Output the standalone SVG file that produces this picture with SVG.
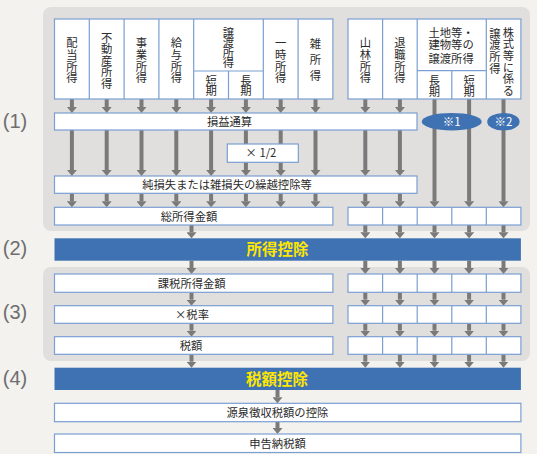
<svg xmlns="http://www.w3.org/2000/svg" width="537" height="454" viewBox="0 0 537 454">
<defs>
<style>
.bg{fill:#f3f2ee}
.panel{fill:#e1dfde}
.box{fill:#fff;stroke:#7b9fd2;stroke-width:1.2}
.div{stroke:#7b9fd2;stroke-width:1.2;fill:none}
.bar{fill:#3e72b3}
.t{font-family:"Noto Sans CJK JP","Noto Sans",sans-serif;font-size:11.3px;fill:#2a2a2a}
.m{text-anchor:middle}
.v{writing-mode:vertical-rl;text-anchor:middle;letter-spacing:0.3px}
.bt{font-family:"Noto Sans CJK JP",sans-serif;font-size:15.5px;font-weight:bold;fill:#ffe600;text-anchor:middle}
.lab{font-family:"Liberation Sans","Noto Sans",sans-serif;font-size:20px;fill:#6e6e6e;text-anchor:middle}
.ell{fill:#3e72b3}
.et{font-family:"Noto Sans CJK JP",sans-serif;font-size:11.5px;fill:#fff;text-anchor:middle}
.ar{stroke:#7a7a7a;stroke-width:4;fill:none;marker-end:url(#ah)}
</style>
<marker id="ah" viewBox="0 0 6 10" refX="0" refY="5" markerWidth="6" markerHeight="10" markerUnits="userSpaceOnUse" orient="auto">
<path d="M0,0 L6,5 L0,10 z" fill="#7a7a7a"/>
</marker>
</defs>
<rect class="bg" x="0" y="0" width="537" height="454"/>
<rect class="panel" x="43" y="7" width="487" height="224" rx="8"/>
<rect class="panel" x="43" y="267" width="487" height="94" rx="8"/>

<g id="labels">
<text class="lab" x="15" y="128">(1)</text>
<text class="lab" x="15" y="255">(2)</text>
<text class="lab" x="15" y="319">(3)</text>
<text class="lab" x="15" y="385">(4)</text>
</g>

<g id="connectors">
<path class="ar" d="M71.9,99V107"/><path class="ar" d="M106.7,99V107"/><path class="ar" d="M141.5,99V107"/><path class="ar" d="M176.3,99V107"/>
<path class="ar" d="M211.1,99V107"/><path class="ar" d="M245.9,99V107"/><path class="ar" d="M280.7,99V107"/><path class="ar" d="M315.5,99V107"/>
<path class="ar" d="M365.3,99V107"/><path class="ar" d="M399.9,99V107"/>
<path class="ar" d="M434.5,99V201.3"/><path class="ar" d="M469.1,99V201.3"/><path class="ar" d="M503.5,99V201.3"/>
<path class="ar" d="M71.9,130V170"/><path class="ar" d="M106.7,130V170"/><path class="ar" d="M141.5,130V170"/><path class="ar" d="M176.3,130V170"/>
<path class="ar" d="M211.1,130V170"/><path class="ar" d="M245.9,130V170"/><path class="ar" d="M280.7,130V170"/><path class="ar" d="M315.5,130V170"/>
<path class="ar" d="M365.3,130V170"/><path class="ar" d="M399.9,130V170"/>
<path class="ar" d="M71.9,193.3V201.3"/><path class="ar" d="M106.7,193.3V201.3"/><path class="ar" d="M141.5,193.3V201.3"/><path class="ar" d="M176.3,193.3V201.3"/>
<path class="ar" d="M211.1,193.3V201.3"/><path class="ar" d="M245.9,193.3V201.3"/><path class="ar" d="M280.7,193.3V201.3"/><path class="ar" d="M315.5,193.3V201.3"/>
<path class="ar" d="M365.3,193.3V201.3"/><path class="ar" d="M399.9,193.3V201.3"/>
<path class="ar" d="M191.5,225V232.3"/><path class="ar" d="M365.3,225V232.3"/><path class="ar" d="M399.9,225V232.3"/><path class="ar" d="M434.5,225V232.3"/><path class="ar" d="M469.1,225V232.3"/><path class="ar" d="M503.5,225V232.3"/>
<path class="ar" d="M191.5,260.7V268"/><path class="ar" d="M365.3,260.7V268"/><path class="ar" d="M399.9,260.7V268"/><path class="ar" d="M434.5,260.7V268"/><path class="ar" d="M469.1,260.7V268"/><path class="ar" d="M503.5,260.7V268"/>
<path class="ar" d="M191.5,292.3V299.7"/><path class="ar" d="M365.3,292.3V299.7"/><path class="ar" d="M399.9,292.3V299.7"/><path class="ar" d="M434.5,292.3V299.7"/><path class="ar" d="M469.1,292.3V299.7"/><path class="ar" d="M503.5,292.3V299.7"/>
<path class="ar" d="M191.5,323.3V330.7"/><path class="ar" d="M365.3,323.3V330.7"/><path class="ar" d="M399.9,323.3V330.7"/><path class="ar" d="M434.5,323.3V330.7"/><path class="ar" d="M469.1,323.3V330.7"/><path class="ar" d="M503.5,323.3V330.7"/>
<path class="ar" d="M191.5,354.3V361.7"/><path class="ar" d="M365.3,354.3V361.7"/><path class="ar" d="M399.9,354.3V361.7"/><path class="ar" d="M434.5,354.3V361.7"/><path class="ar" d="M469.1,354.3V361.7"/><path class="ar" d="M503.5,354.3V361.7"/>
<path class="ar" d="M277.5,390V397.3"/>
<path class="ar" d="M277.5,421.7V428"/>
</g>

<g id="income-left">
<rect class="box" x="54.5" y="19" width="278.4" height="80"/>
<path class="div" d="M89.3,19V99M124.1,19V99M158.9,19V99M193.7,19V99M263.3,19V99M298.1,19V99M228.5,71V99M193.7,71H263.3"/>
<text class="t v" x="71.9" y="60.6">配当所得</text>
<text class="t v" x="106.7" y="60.6">不動産所得</text>
<text class="t v" x="141.5" y="60.6">事業所得</text>
<text class="t v" x="176.3" y="60.6">給与所得</text>
<text class="t v" x="228.5" y="46.7" style="letter-spacing:-1.3px">譲渡所得</text>
<text class="t v" x="211.1" y="85.4" style="letter-spacing:-0.8px">短期</text>
<text class="t v" x="245.9" y="85.4" style="letter-spacing:-0.8px">長期</text>
<text class="t v" x="280.7" y="60.6">一時所得</text>
<text class="t v" x="315.5" y="62" style="letter-spacing:4.7px">雑所得</text>
</g>

<g id="income-right">
<rect class="box" x="348" y="19" width="172.9" height="80"/>
<path class="div" d="M382.6,19V99M417.2,19V99M486.3,19V99M451.8,70.7V99M417.2,70.7H486.3"/>
<text class="t v" x="365.3" y="60.6">山林所得</text>
<text class="t v" x="399.9" y="60.6">退職所得</text>
<text class="t"><tspan x="428.5" y="37.1">土地等・</tspan><tspan x="428.5" y="49.3">建物等の</tspan><tspan x="428.5" y="62.8">譲渡所得</tspan></text>
<text class="t v" x="434.5" y="85.6" style="letter-spacing:-0.6px">長期</text>
<text class="t v" x="469.1" y="85.6" style="letter-spacing:-0.6px">短期</text>
<text class="t v" x="508.3" y="61.7">株式等に係る</text>
<text class="t v" x="495" y="51">譲渡所得</text>
</g>

<g id="sonekitsusan">
<rect class="box" x="54.5" y="113" width="362.5" height="17"/>
<text class="t m" x="229.5" y="125.8">損益通算</text>
</g>
<g id="note1">
<ellipse class="ell" cx="451.7" cy="121.7" rx="30" ry="8.8"/>
<text class="et" x="451.7" y="125.8">※1</text>
</g>
<g id="note2">
<ellipse class="ell" cx="503.4" cy="121.7" rx="16.2" ry="8.8"/>
<text class="et" x="503.4" y="125.8">※2</text>
</g>
<g id="half">
<rect class="box" x="227.3" y="144" width="71" height="18.3"/>
<text class="t m" x="261" y="157.3">× 1/2</text>
</g>
<g id="kurikoshi">
<rect class="box" x="54.5" y="176" width="362.5" height="17.3"/>
<text class="t m" x="227" y="189">純損失または雑損失の繰越控除等</text>
</g>
<g id="soshotoku">
<rect class="box" x="54.5" y="207.3" width="278.4" height="17.7"/>
<text class="t m" x="189" y="220.5">総所得金額</text>
</g>
<g id="cells-1">
<rect class="box" x="348" y="207.3" width="172.9" height="17.7"/>
<path class="div" d="M382.6,207.3V225M417.2,207.3V225M451.8,207.3V225M486.3,207.3V225"/>
</g>
<g id="shotokukojo">
<rect class="bar" x="54.5" y="238.3" width="466.4" height="22.4"/>
<text class="bt" x="277.5" y="255.4">所得控除</text>
</g>
<g id="kazei">
<rect class="box" x="54.5" y="274" width="278.4" height="18.3"/>
<text class="t m" x="191.7" y="287.5">課税所得金額</text>
</g>
<g id="cells-2">
<rect class="box" x="348" y="274" width="172.9" height="18.3"/>
<path class="div" d="M382.6,274V292.3M417.2,274V292.3M451.8,274V292.3M486.3,274V292.3"/>
</g>
<g id="zeiritsu">
<rect class="box" x="54.5" y="305.7" width="278.4" height="17.6"/>
<text class="t m" x="192" y="318.8">×税率</text>
</g>
<g id="cells-3">
<rect class="box" x="348" y="305.7" width="172.9" height="17.6"/>
<path class="div" d="M382.6,305.7V323.3M417.2,305.7V323.3M451.8,305.7V323.3M486.3,305.7V323.3"/>
</g>
<g id="zeigaku">
<rect class="box" x="54.5" y="336.7" width="278.4" height="17.6"/>
<text class="t m" x="191" y="349.8">税額</text>
</g>
<g id="cells-4">
<rect class="box" x="348" y="336.7" width="172.9" height="17.6"/>
<path class="div" d="M382.6,336.7V354.3M417.2,336.7V354.3M451.8,336.7V354.3M486.3,336.7V354.3"/>
</g>
<g id="zeigakukojo">
<rect class="bar" x="54.5" y="367.7" width="466.4" height="22.3"/>
<text class="bt" x="277" y="384.7">税額控除</text>
</g>
<g id="gensen">
<rect class="box" x="54.5" y="403.3" width="466.4" height="18.4"/>
<text class="t m" x="277.4" y="416.8">源泉徴収税額の控除</text>
</g>
<g id="shinkoku">
<rect class="box" x="54.5" y="434" width="466.4" height="18.5"/>
<text class="t m" x="277.5" y="447.6">申告納税額</text>
</g>
</svg>
